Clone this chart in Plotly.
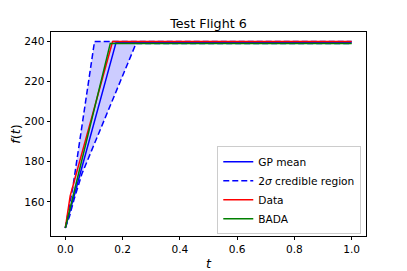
import plotly.graph_objects as go

# Data
t_gp = [0.0, 0.02, 0.05, 0.1, 0.177, 1.0]
f_gp = [147.0, 157.5, 173.0, 199.0, 239.4, 239.4]

t_upper = [0.0, 0.027, 0.102, 1.0]
f_upper = [147.0, 168.0, 240.0, 240.0]

t_lower = [0.0, 0.015, 0.03, 0.058, 0.247, 1.0]
f_lower = [147.0, 153.0, 161.0, 174.0, 239.0, 239.0]

t_data = [0.0, 0.017, 0.165, 1.0]
f_data = [147.0, 163.0, 240.0, 240.0]

t_bada = [0.0, 0.157, 1.0]
f_bada = [147.0, 239.0, 239.0]

BLUE = "#0000ff"
RED = "#ff0000"
GREEN = "#008000"

fig = go.Figure()

# shaded credible region (polygon: upper then reversed lower)
fig.add_trace(go.Scatter(
    x=t_upper + t_lower[::-1],
    y=f_upper + f_lower[::-1],
    fill="toself", fillcolor="rgba(0,0,255,0.2)",
    line=dict(width=0), mode="lines", showlegend=False, hoverinfo="skip"))

fig.add_trace(go.Scatter(x=t_gp, y=f_gp, mode="lines", name="GP mean",
                         line=dict(color=BLUE, width=1.5)))
fig.add_trace(go.Scatter(x=t_upper, y=f_upper, mode="lines",
                         name="2<i>σ</i> credible region",
                         line=dict(color=BLUE, width=1.5, dash="6px,3px")))
fig.add_trace(go.Scatter(x=t_lower, y=f_lower, mode="lines", showlegend=False,
                         line=dict(color=BLUE, width=1.5, dash="6px,3px")))
fig.add_trace(go.Scatter(x=t_data, y=f_data, mode="lines", name="Data",
                         line=dict(color=RED, width=1.5)))
fig.add_trace(go.Scatter(x=t_bada, y=f_bada, mode="lines", name="BADA",
                         line=dict(color=GREEN, width=1.5)))

axis_common = dict(showline=True, linecolor="black", linewidth=0.8, mirror=True,
                   ticks="outside", ticklen=3.5, tickwidth=0.8, tickcolor="black",
                   showgrid=False, zeroline=False, automargin=False,
                   tickfont=dict(family="DejaVu Sans", size=10.6, color="black"))

# the page body adds an 8px offset, so the figure is 8px smaller than the window
fig.update_layout(
    width=399, height=263,
    margin=dict(l=43, r=41, t=24, b=35, autoexpand=False),
    paper_bgcolor="white", plot_bgcolor="white",
    font=dict(family="DejaVu Sans", size=10.6, color="black"),
    title=dict(text="Test Flight 6", x=0.5, xref="paper", xanchor="center",
               y=0.94, yref="container", yanchor="middle",
               font=dict(family="DejaVu Sans", size=12.7, color="black"),
               automargin=False),
    xaxis=dict(range=[-0.05, 1.05], tickvals=[0, 0.2, 0.4, 0.6, 0.8, 1.0],
               tickformat=".1f",
               title=dict(text="<i>t</i>", standoff=4,
                          font=dict(family="DejaVu Sans", size=12.7)),
               **axis_common),
    yaxis=dict(range=[143.0, 244.7], tickvals=[160, 180, 200, 220, 240],
               title=dict(text="<i>f</i>(<i>t</i>)", standoff=11,
                          font=dict(family="DejaVu Sans", size=12.7)),
               **axis_common),
    legend=dict(x=0.985, xanchor="right", y=0.008, yanchor="bottom",
                bgcolor="rgba(255,255,255,0.8)", bordercolor="#cccccc", borderwidth=1,
                font=dict(family="DejaVu Sans", size=10.6, color="black"),
                itemwidth=30, tracegroupgap=0),
)

fig.write_html("out.html")
